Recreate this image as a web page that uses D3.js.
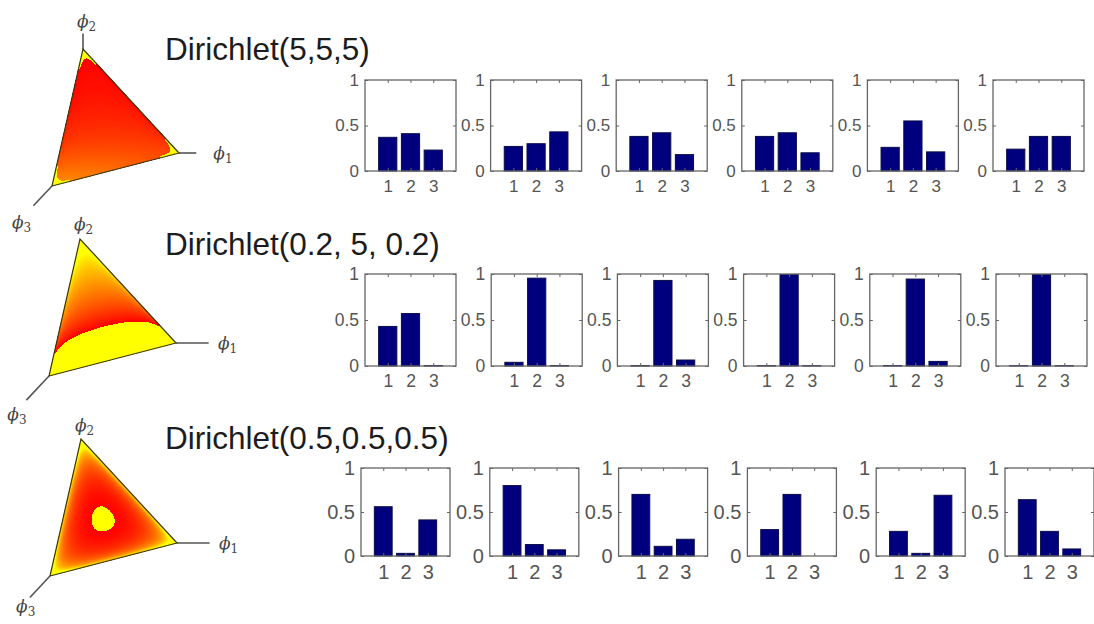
<!DOCTYPE html>
<html lang="en">
<head>
  <meta charset="UTF-8">
  <title>Dirichlet samples</title>
  <script src="https://d3js.org/d3.v7.min.js"></script>
  <style>
    body { margin: 0; background: #fff; }
    .title { font-family: "Liberation Sans", Arial, sans-serif; font-size: 31.5px; fill: #1c1c1c; }
    .tick text { font-family: "Liberation Sans", Arial, sans-serif; fill: #555; }
    .tick line { stroke: #666; }
    .frame { fill: none; stroke: #666; stroke-width: 1.3px; }
    .bar { fill: #00007f; stroke: #0b0b4a; stroke-width: 1px; }
    .phi { font-family: "DejaVu Serif", serif; font-style: italic; fill: #444; }
    .axisline { stroke: #555; stroke-width: 1.6px; }
  </style>
</head>
<body>
  <svg width="1094" height="624"></svg>
  <script>
    // Dirichlet parameters and the row titles
    const titles = ["Dirichlet(5,5,5)", "Dirichlet(0.2, 5, 0.2)", "Dirichlet(0.5,0.5,0.5)"];
    const alphas = [[5, 5, 5], [0.2, 5, 0.2], [0.5, 0.5, 0.5]];

    const categories = [1, 2, 3];
    const yTicks = [0, 0.5, 1];

    const samples1 = [[0.37, 0.41, 0.23], [0.27, 0.30, 0.43], [0.38, 0.42, 0.18],
                      [0.38, 0.42, 0.20], [0.26, 0.55, 0.21], [0.24, 0.38, 0.38]];
    const samples2 = [[0.43, 0.57, 0.005], [0.04, 0.955, 0.005], [0.005, 0.93, 0.065],
                      [0.003, 0.994, 0.003], [0.005, 0.945, 0.05], [0.003, 0.994, 0.003]];
    const samples3 = [[0.56, 0.03, 0.41], [0.80, 0.13, 0.07], [0.70, 0.11, 0.19],
                      [0.30, 0.70, 0], [0.28, 0.03, 0.69], [0.64, 0.28, 0.08]];
    const samples = [samples1, samples2, samples3];

    // colouring of the simplex surface: log-density cut below which it shows yellow,
    // log-density at which it reaches yellow again, and a vertical shading amount
    const logCut = [-10.5, -6.0, -0.155];
    const logTop = [200, 1.5, 1.5];
    const shade = [0.6, 0, 0];

    // layout
    const W = 1094, H = 624;
    const svg = d3.select("svg").attr("width", W).attr("height", H);

    const rowTop = [80, 274, 468];
    const rowH = [91, 92, 88];
    const rowLeft = [365, 365, 361];
    const rowStep = [125.6, 126.2, 128.8];
    const boxW = [91, 91, 89];
    const labelSize = [17, 17.5, 20];
    const titleY = [60, 255, 449];

    // simplex projection (screen vectors of the three unit axes) and per-row origins
    const e = [[96, 0], [0, -104], [-31, 33]];
    const origin = [[83, 153], [80, 343], [81, 543]];
    const axisEnd = [[1.18, 1.15, 1.6], [1.34, 1.0, 1.73], [1.34, 1.0, 1.65]];
    const labelAt = [[1.42, 1.27, 2.1], [1.5, 1.14, 2.15], [1.5, 1.13, 1.9]];

    function lgamma(x) {
      const g = 7, c = [0.99999999999980993, 676.5203681218851, -1259.1392167224028,
        771.32342877765313, -176.61502916214059, 12.507343278686905,
        -0.13857109526572012, 9.9843695780195716e-6, 1.5056327351493116e-7];
      if (x < 0.5) return Math.log(Math.PI / Math.abs(Math.sin(Math.PI * x))) - lgamma(1 - x);
      x -= 1;
      let a = c[0];
      const t = x + g + 0.5;
      for (let i = 1; i < g + 2; i++) a += c[i] / (x + i);
      return 0.5 * Math.log(2 * Math.PI) + (x + 0.5) * Math.log(t) - t + Math.log(a);
    }

    function logDirichlet(a, x) {
      let s = lgamma(a[0] + a[1] + a[2]);
      for (let i = 0; i < 3; i++) s += -lgamma(a[i]) + (a[i] - 1) * Math.log(x[i]);
      return s;
    }

    const pt = (o, x) => [o[0] + x[0] * e[0][0] + x[1] * e[1][0] + x[2] * e[2][0],
                          o[1] + x[0] * e[0][1] + x[1] * e[1][1] + x[2] * e[2][1]];

    alphas.forEach((a, r) => {
      const o = origin[r];
      const V = [pt(o, [1, 0, 0]), pt(o, [0, 1, 0]), pt(o, [0, 0, 1])];
      const g = svg.append("g");

      // axis lines from vertex outward
      [0, 1, 2].forEach(k => {
        const u = [0, 0, 0]; u[k] = axisEnd[r][k];
        const p = pt(o, u);
        g.append("line").attr("class", "axisline")
          .attr("x1", V[k][0]).attr("y1", V[k][1]).attr("x2", p[0]).attr("y2", p[1]);
        const l = [0, 0, 0]; l[k] = labelAt[r][k];
        const q = pt(o, l);
        const lab = g.append("text").attr("class", "phi")
          .attr("x", q[0] - 6).attr("y", q[1] + 6).attr("font-size", 17).text("\u03d5");
        lab.append("tspan").attr("font-size", 12).attr("dy", 4).attr("font-style", "normal").text(k + 1);
      });

      // density surface on a canvas
      const x0 = Math.floor(d3.min(V, v => v[0])), x1 = Math.ceil(d3.max(V, v => v[0]));
      const y0 = Math.floor(d3.min(V, v => v[1])), y1 = Math.ceil(d3.max(V, v => v[1]));
      const cw = x1 - x0, ch = y1 - y0;
      const canvas = document.createElement("canvas");
      canvas.width = cw; canvas.height = ch;
      const ctx = canvas.getContext("2d");
      const img = ctx.createImageData(cw, ch);
      const color = d3.scaleLinear().domain([0, 1]).range(["#ff0000", "#ffff00"]).clamp(true);
      const a1 = [V[0][0] - V[2][0], V[0][1] - V[2][1]];
      const a2 = [V[1][0] - V[2][0], V[1][1] - V[2][1]];
      const det = a1[0] * a2[1] - a2[0] * a1[1];
      const eps = 0.012; // grid floor, like a sampled mesh that stops short of the edges
      for (let j = 0; j < ch; j++) {
        for (let i = 0; i < cw; i++) {
          const px = x0 + i + 0.5 - V[2][0], py = y0 + j + 0.5 - V[2][1];
          const b1 = (px * a2[1] - a2[0] * py) / det;
          const b2 = (a1[0] * py - px * a1[1]) / det;
          const b3 = 1 - b1 - b2;
          if (b1 < -0.004 || b2 < -0.004 || b3 < -0.004) continue;
          const ld = logDirichlet(a, [Math.max(b1, eps), Math.max(b2, eps), Math.max(b3, eps)]);
          let t;
          if (ld < logCut[r]) t = 1;
          else {
            const vy = (y0 + j - V[1][1]) / (V[2][1] - V[1][1]);
            t = (ld - logCut[r]) / (logTop[r] - logCut[r]) + shade[r] * vy * vy * vy;
          }
          const c = d3.rgb(color(t));
          const idx = (j * cw + i) * 4;
          img.data[idx] = c.r; img.data[idx + 1] = c.g; img.data[idx + 2] = c.b; img.data[idx + 3] = 255;
        }
      }
      ctx.putImageData(img, 0, 0);
      g.append("image").attr("x", x0).attr("y", y0).attr("width", cw).attr("height", ch)
        .attr("href", canvas.toDataURL());
      g.append("path")
        .attr("d", d3.line()(V) + "Z")
        .attr("fill", "none").attr("stroke", "#3b3a12").attr("stroke-width", 1.2);

      // title
      svg.append("text").attr("class", "title").attr("x", 165).attr("y", titleY[r]).text(titles[r]);

      // six bar charts
      samples[r].forEach((vals, j) => {
        const left = rowLeft[r] + j * rowStep[r];
        const x = d3.scaleLinear().domain([0, 4]).range([left, left + boxW[r]]);
        const y = d3.scaleLinear().domain([0, 1]).range([rowTop[r] + rowH[r], rowTop[r]]);
        const p = svg.append("g");

        p.selectAll(".bar").data(vals).join("rect")
          .attr("class", "bar")
          .attr("x", (d, i) => x(categories[i] - 0.4))
          .attr("width", x(0.8) - x(0))
          .attr("y", d => y(d))
          .attr("height", d => y(0) - y(d));

        const fs = labelSize[r];
        p.append("g").attr("transform", `translate(${x(0)},0)`)
          .call(d3.axisLeft(y).tickValues(yTicks).tickSize(-3).tickPadding(6).tickFormat(String))
          .call(s => s.select(".domain").remove())
          .selectAll("text").attr("font-size", fs);
        p.append("g").attr("transform", `translate(${x(4)},0)`)
          .call(d3.axisRight(y).tickValues(yTicks).tickSize(-3).tickFormat(""))
          .call(s => s.select(".domain").remove());
        p.append("g").attr("transform", `translate(0,${y(0)})`)
          .call(d3.axisBottom(x).tickValues(categories).tickSize(-3).tickPadding(9).tickFormat(String))
          .call(s => s.select(".domain").remove())
          .selectAll("text").attr("font-size", fs);
        p.append("g").attr("transform", `translate(0,${y(1)})`)
          .call(d3.axisTop(x).tickValues(categories).tickSize(-3).tickFormat(""))
          .call(s => s.select(".domain").remove());

        p.append("rect").attr("class", "frame")
          .attr("x", x(0)).attr("y", y(1))
          .attr("width", x(4) - x(0)).attr("height", y(0) - y(1));
      });
    });
  </script>
</body>
</html>
